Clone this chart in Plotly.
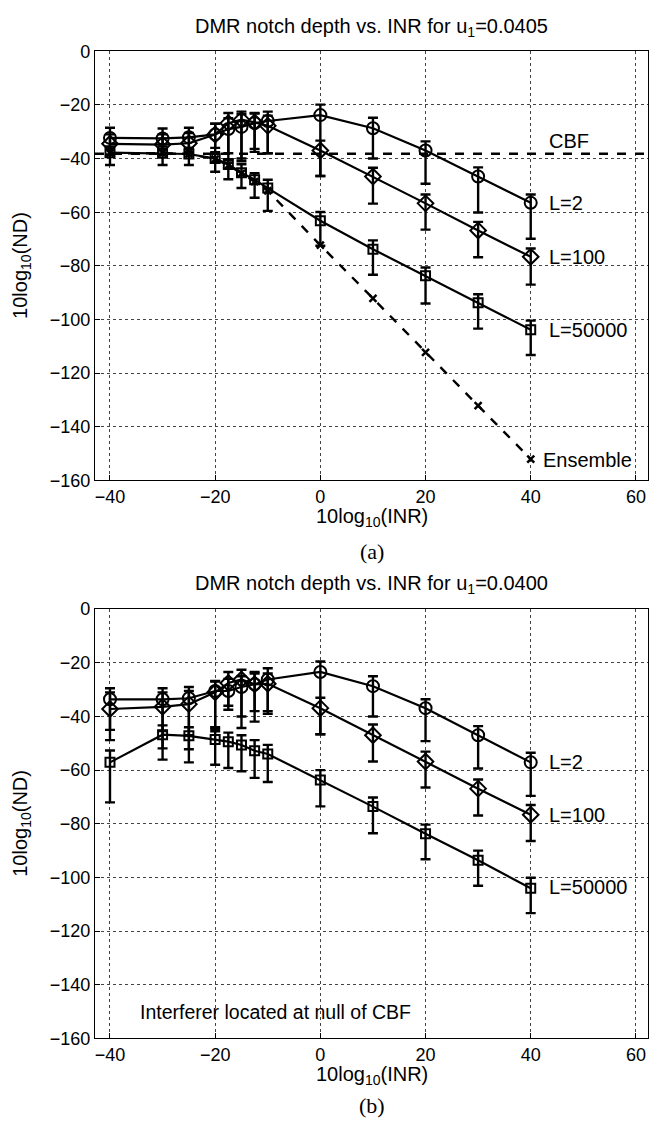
import plotly.graph_objects as go
from plotly.subplots import make_subplots

# ---------------- data ----------------
inr = [-40, -30, -25, -20, -17.5, -15, -12.5, -10, 0, 10, 20, 30, 40]

# panel (a): u1 = 0.0405
a_L2 = [-32.3, -32.5, -32.1, -31.0, -29.0, -28.2, -26.8, -26.0, -23.8, -28.7, -37.0, -46.7, -56.5]
a_L2_hi = [-28.5, -28.8, -28.5, -27.0, -25.0, -23.5, -23.2, -22.5, -19.9, -24.8, -33.6, -43.3, -53.4]
a_L2_lo = [-36.5, -36.5, -36.0, -38.0, -38.0, -40.0, -36.4, -38.0, -46.5, -40.0, -49.4, -60.1, -69.9]

a_L100 = [-34.5, -34.8, -34.3, -31.0, -26.8, -25.5, -26.5, -27.8, -37.0, -46.7, -56.7, -66.8, -76.6]
a_L100_hi = [-31.0, -31.0, -30.5, -27.0, -23.0, -22.5, -23.0, -24.0, -33.3, -43.4, -53.4, -63.6, -73.5]
a_L100_lo = [-38.5, -38.5, -38.0, -36.0, -41.5, -41.0, -37.5, -38.0, -46.5, -56.8, -66.5, -76.8, -87.0]

a_L50000 = [-37.8, -38.0, -38.3, -40.0, -42.2, -45.3, -47.9, -51.0, -63.2, -73.8, -83.7, -93.7, -103.8]
a_L50000_hi = [-35.5, -35.5, -36.0, -37.6, -40.2, -42.1, -45.5, -47.9, -59.9, -70.5, -80.6, -90.6, -100.4]
a_L50000_lo = [-42.4, -42.4, -42.4, -44.9, -47.7, -51.0, -54.6, -59.5, -72.5, -83.3, -94.0, -103.4, -113.2]

a_ensemble = [-38.0, -38.0, -38.3, -40.2, -42.5, -45.5, -48.6, -52.0, -72.3, -92.1, -112.2, -132.1, -152.0]
cbf_level = -38.2

# panel (b): u1 = 0.0400
b_L2 = [-33.6, -33.6, -33.2, -30.5, -30.5, -29.0, -28.0, -26.2, -23.4, -28.7, -36.9, -47.0, -57.1]
b_L2_hi = [-29.5, -29.5, -29.0, -26.8, -26.0, -25.0, -24.0, -22.0, -19.5, -25.0, -33.6, -43.6, -53.5]
b_L2_lo = [-45.0, -45.4, -47.0, -44.6, -37.5, -44.3, -41.9, -39.0, -46.6, -40.0, -49.2, -59.4, -69.6]

b_L100 = [-37.2, -36.4, -35.4, -31.0, -27.5, -26.2, -28.0, -27.8, -36.9, -47.0, -56.8, -66.9, -76.6]
b_L100_hi = [-31.0, -31.0, -30.5, -27.0, -23.4, -22.6, -23.4, -24.0, -33.0, -43.0, -53.1, -63.5, -73.0]
b_L100_lo = [-48.8, -51.9, -52.2, -44.0, -36.0, -40.0, -38.0, -38.0, -46.6, -56.8, -66.5, -76.9, -86.4]

b_L50000 = [-57.1, -46.8, -47.2, -48.6, -49.4, -50.6, -52.8, -54.0, -63.7, -73.6, -83.7, -93.6, -104.0]
b_L50000_hi = [-52.7, -43.3, -44.0, -45.5, -46.0, -47.0, -48.8, -50.6, -60.0, -70.2, -80.3, -90.0, -100.1]
b_L50000_lo = [-72.0, -56.1, -57.1, -58.0, -59.2, -60.4, -62.9, -64.4, -73.5, -83.5, -93.2, -103.1, -113.3]

x_ticks = [-40, -20, 0, 20, 40, 60]
y_ticks = [0, -20, -40, -60, -80, -100, -120, -140, -160]

# ---------------- figure ----------------
W, H = 650, 1127
FONT = "Liberation Sans, Arial, Helvetica, sans-serif"
SERIF = "Liberation Serif, Times New Roman, serif"

fig = make_subplots(rows=2, cols=1)


def series(x, y, hi, lo, symbol, size, row):
    plus = [h - v for h, v in zip(hi, y)]
    minus = [v - l for v, l in zip(y, lo)]
    fig.add_trace(go.Scatter(
        x=x, y=y, mode="lines+markers",
        line=dict(color="black", width=2.2),
        marker=dict(symbol=symbol, size=size, color="black",
                    line=dict(color="black", width=2)),
        error_y=dict(type="data", symmetric=False, array=plus, arrayminus=minus,
                     color="black", thickness=2.4, width=5),
        showlegend=False, hoverinfo="skip"), row=row, col=1)


series(inr, a_L2, a_L2_hi, a_L2_lo, "circle-open", 12, 1)
series(inr, a_L100, a_L100_hi, a_L100_lo, "diamond-open", 12, 1)
series(inr, a_L50000, a_L50000_hi, a_L50000_lo, "square-open", 9, 1)
fig.add_trace(go.Scatter(
    x=inr, y=a_ensemble, mode="lines+markers",
    line=dict(color="black", width=2.4, dash="dash"),
    marker=dict(symbol="x-thin", size=7, color="black", line=dict(color="black", width=2.5)),
    showlegend=False, hoverinfo="skip"), row=1, col=1)

series(inr, b_L2, b_L2_hi, b_L2_lo, "circle-open", 12, 2)
series(inr, b_L100, b_L100_hi, b_L100_lo, "diamond-open", 12, 2)
series(inr, b_L50000, b_L50000_hi, b_L50000_lo, "square-open", 9, 2)

fig.add_hline(y=cbf_level, line=dict(color="black", width=2.4, dash="dash"), row=1, col=1)

# layout geometry (pixels)
px_left, px_right = 95, 648
top_a, bot_a = 42, 479
top_b, bot_b = 610, 1047
xdom = [px_left / W, px_right / W]
xc = (px_left + px_right) / 2 / W

axis_common = dict(
    showline=True, linecolor="black", linewidth=1.2, mirror=True,
    ticks="inside", ticklen=5, tickcolor="black",
    showgrid=True, gridcolor="#444444", gridwidth=1, griddash="dot",
    zeroline=False, tickfont=dict(family=FONT, size=18, color="black"),
)
for i, (t, b) in enumerate([(top_a, bot_a), (top_b, bot_b)], start=1):
    xa = "xaxis" if i == 1 else "xaxis2"
    ya = "yaxis" if i == 1 else "yaxis2"
    fig.layout[xa].update(domain=xdom, range=[-42.85, 62.3], tickvals=x_ticks, **axis_common)
    fig.layout[ya].update(domain=[1 - b / H, 1 - t / H], range=[-160, 0], tickvals=y_ticks,
                          **axis_common)

ann = []


def ptext(text, xpx, ypx, size=20, family=FONT, angle=0):
    ann.append(dict(text=text, x=xpx / W, y=1 - ypx / H, xref="paper", yref="paper",
                    showarrow=False, xanchor="center", yanchor="middle", textangle=angle,
                    font=dict(family=family, size=size, color="black")))


ptext("DMR notch depth vs. INR for u<sub>1</sub>=0.0405", xc * W, 18)
ptext("10log<sub>10</sub>(INR)", xc * W, 517)
ptext("(a)", xc * W, 551, size=22, family=SERIF)
ptext("10log<sub>10</sub>(ND)", 22, (top_a + bot_a) / 2, angle=-90)

ptext("DMR notch depth vs. INR for u<sub>1</sub>=0.0400", xc * W, 585)
ptext("10log<sub>10</sub>(INR)", xc * W, 1085)
ptext("(b)", xc * W, 1115, size=22, family=SERIF)
ptext("10log<sub>10</sub>(ND)", 22, (top_b + bot_b) / 2, angle=-90)


def dtext(text, x, y, xr, yr, size=20):
    ann.append(dict(text=text, x=x, y=y, xref=xr, yref=yr, showarrow=False,
                    xanchor="left", yanchor="middle",
                    font=dict(family=FONT, size=size, color="black")))


dtext("CBF", 43, -33.3, "x", "y")
dtext("L=2", 43, -56.5, "x", "y")
dtext("L=100", 43, -76.6, "x", "y")
dtext("L=50000", 43, -104, "x", "y")
dtext("Ensemble", 42, -152.2, "x", "y")

dtext("L=2", 43, -57.1, "x2", "y2")
dtext("L=100", 43, -76.6, "x2", "y2")
dtext("L=50000", 43, -103.7, "x2", "y2")
dtext("Interferer located at null of CBF", -34.6, -150.1, "x2", "y2", size=19.5)

fig.update_layout(
    width=W, height=H, margin=dict(l=0, r=0, t=0, b=0),
    paper_bgcolor="white", plot_bgcolor="white",
    annotations=ann, showlegend=False,
)

fig.write_html("out.html")
